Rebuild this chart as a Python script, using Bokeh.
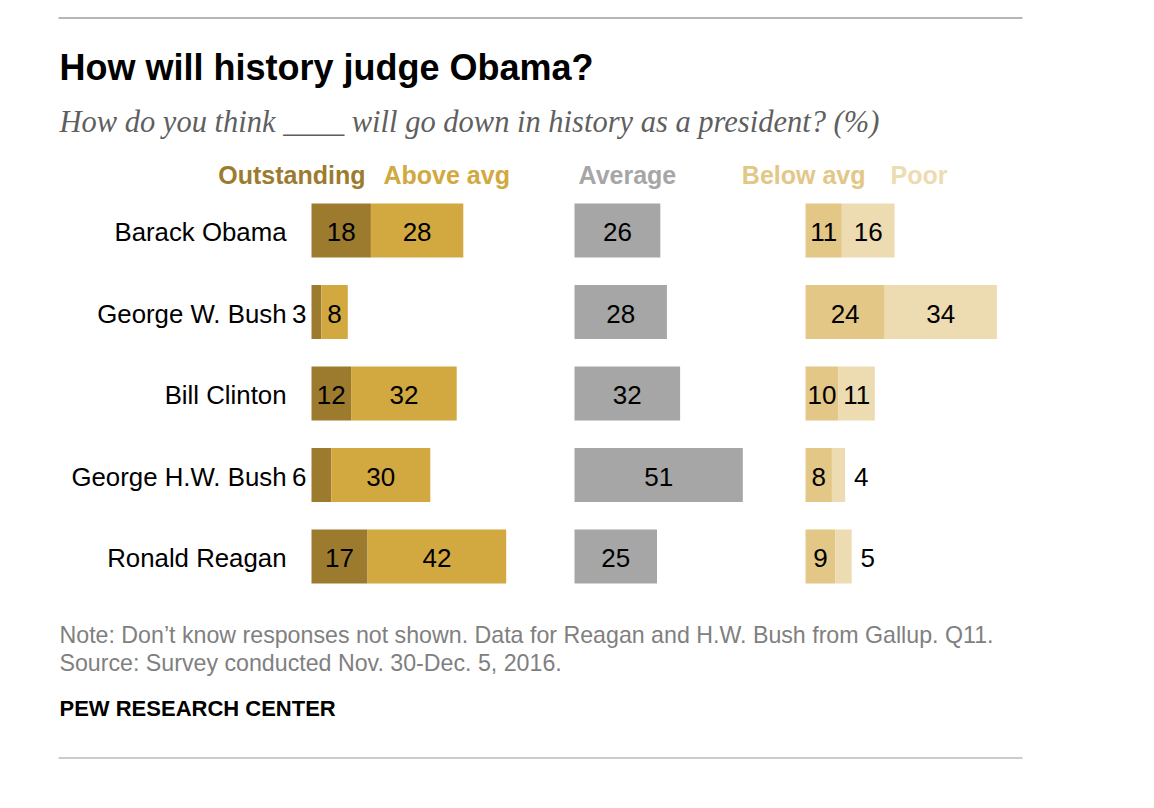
from bokeh.plotting import figure
from bokeh.models import ColumnDataSource, Range1d
from bokeh.core.properties import value
from bokeh.embed import file_html
from bokeh.resources import INLINE

# ---------------- data ----------------
names = ["Barack Obama", "George W. Bush", "Bill Clinton", "George H.W. Bush", "Ronald Reagan"]
outstanding = [18, 3, 12, 6, 17]
above_avg = [28, 8, 32, 30, 42]
average = [26, 28, 32, 51, 25]
below_avg = [11, 24, 10, 8, 9]
poor = [16, 34, 11, 4, 5]
categories = ["Outstanding", "Above avg", "Average", "Below avg", "Poor"]

title = "How will history judge Obama?"
subtitle = "How do you think ____ will go down in history as a president? (%)"
note1 = "Note: Don\u2019t know responses not shown. Data for Reagan and H.W. Bush from Gallup. Q11."
note2 = "Source: Survey conducted Nov. 30-Dec. 5, 2016."
credit = "PEW RESEARCH CENTER"

# ---------------- style ----------------
C_OUT = "#9c7b2f"
C_ABV = "#d2a840"
C_AVG = "#a6a6a6"
C_BEL = "#e2c787"
C_POOR = "#eddcb1"

W, H = 1138, 792
OFF = 0           # page offset of the canvas
PX = 3.3          # pixels per percentage point
ORIGIN_X = 311    # page px of left panel origin
ROW_PITCH = 81.5
ROW0_Y = 230
AVG_OFF = 79.7
RIGHT_OFF = 149.7
BAR_H = 0.663

SANS = "Liberation Sans"
SERIF = "Liberation Serif"


def tx(page_px):
    return (page_px - ORIGIN_X) / PX


def ty(page_py):
    return (page_py - ROW0_Y) / ROW_PITCH


p = figure(width=W, height=H,
           x_range=Range1d(tx(OFF), tx(OFF + W)),
           y_range=Range1d(ty(OFF + H), ty(OFF)),
           toolbar_location=None, output_backend="svg", min_border=0,
           x_axis_location=None, y_axis_location=None)
p.grid.visible = False
p.outline_line_color = None
p.background_fill_color = "white"

rows = list(range(len(names)))

# ---------------- bars ----------------
o_left = [0] * len(rows)
o_right = [v for v in outstanding]
a_left = o_right
a_right = [o + a for o, a in zip(outstanding, above_avg)]
g_left = [AVG_OFF] * len(rows)
g_right = [AVG_OFF + v for v in average]
b_left = [RIGHT_OFF] * len(rows)
b_right = [RIGHT_OFF + v for v in below_avg]
q_left = b_right
q_right = [RIGHT_OFF + b + q for b, q in zip(below_avg, poor)]

for lefts, rights, col in [(o_left, o_right, C_OUT), (a_left, a_right, C_ABV),
                           (g_left, g_right, C_AVG), (b_left, b_right, C_BEL),
                           (q_left, q_right, C_POOR)]:
    src = ColumnDataSource(dict(y=rows, left=lefts, right=rights))
    p.hbar(y="y", left="left", right="right", height=BAR_H, source=src,
           fill_color=col, line_color=None)

# ---------------- value labels ----------------
THRESH = 7
lab_x, lab_y, lab_t, lab_align = [], [], [], []


def add_seg(lefts, rights, vals, outside):
    for i, (l, r, v) in enumerate(zip(lefts, rights, vals)):
        if v < THRESH and outside == "left":
            lab_x.append(l - 1.5)
            lab_align.append("right")
        elif v < THRESH and outside == "right":
            lab_x.append(r + 2.7)
            lab_align.append("left")
        else:
            lab_x.append((l + r) / 2)
            lab_align.append("center")
        lab_y.append(i)
        lab_t.append(str(v))


add_seg(o_left, o_right, outstanding, "left")
add_seg(a_left, a_right, above_avg, "center")
add_seg(g_left, g_right, average, "center")
add_seg(b_left, b_right, below_avg, "center")
add_seg(q_left, q_right, poor, "right")

for al in ["center", "left", "right"]:
    idx = [k for k, a in enumerate(lab_align) if a == al]
    src = ColumnDataSource(dict(x=[lab_x[k] for k in idx], y=[lab_y[k] + 0.02 for k in idx],
                                t=[lab_t[k] for k in idx]))
    p.text(x="x", y="y", text="t", source=src, text_align=al, text_baseline="middle",
           text_font=value(SANS), text_font_size="26px", text_color="black")

# ---------------- category names ----------------
name_src = ColumnDataSource(dict(x=[tx(286)] * len(rows), y=[r + 0.02 for r in rows], t=names))
p.text(x="x", y="y", text="t", source=name_src, text_align="right", text_baseline="middle",
       text_font=value(SANS), text_font_size="25.8px", text_color="black")


def put(text, xp, yp, align="left", font=SANS, size="20px", style="normal", color="black"):
    src = ColumnDataSource(dict(x=[tx(xp)], y=[ty(yp)], t=[text]))
    p.text(x="x", y="y", text="t", source=src, text_align=align, text_baseline="middle",
           text_font=value(font), text_font_size=size, text_font_style=style,
           text_color=color)


# ---------------- legend header ----------------
hdr = [(categories[0], 365, "right", C_OUT), (categories[1], 383, "left", C_ABV),
       (categories[2], 578, "left", C_AVG), (categories[3], 865, "right", C_BEL),
       (categories[4], 890, "left", C_POOR)]
for t, xp, al, col in hdr:
    put(t, xp, 174, align=al, size="25px", style="bold", color=col)

# ---------------- titles and notes ----------------
put(title, 59, 67, size="36px", style="bold")
put(subtitle, 59, 121, font=SERIF, size="30.5px", style="italic", color="#5f5f5f")
put(note1, 59, 634, size="23.2px", color="#808080")
put(note2, 59, 662, size="23.2px", color="#808080")
put(credit, 59, 708, size="22px", style="bold")

# ---------------- rules ----------------
p.segment(x0=[tx(58)], x1=[tx(1022)], y0=[ty(17.5)], y1=[ty(17.5)], line_color="#6e6e6e", line_width=1)
p.segment(x0=[tx(58)], x1=[tx(1022)], y0=[ty(757.5)], y1=[ty(757.5)], line_color="#999999", line_width=1)

open("out.html", "w").write(file_html(p, INLINE))
